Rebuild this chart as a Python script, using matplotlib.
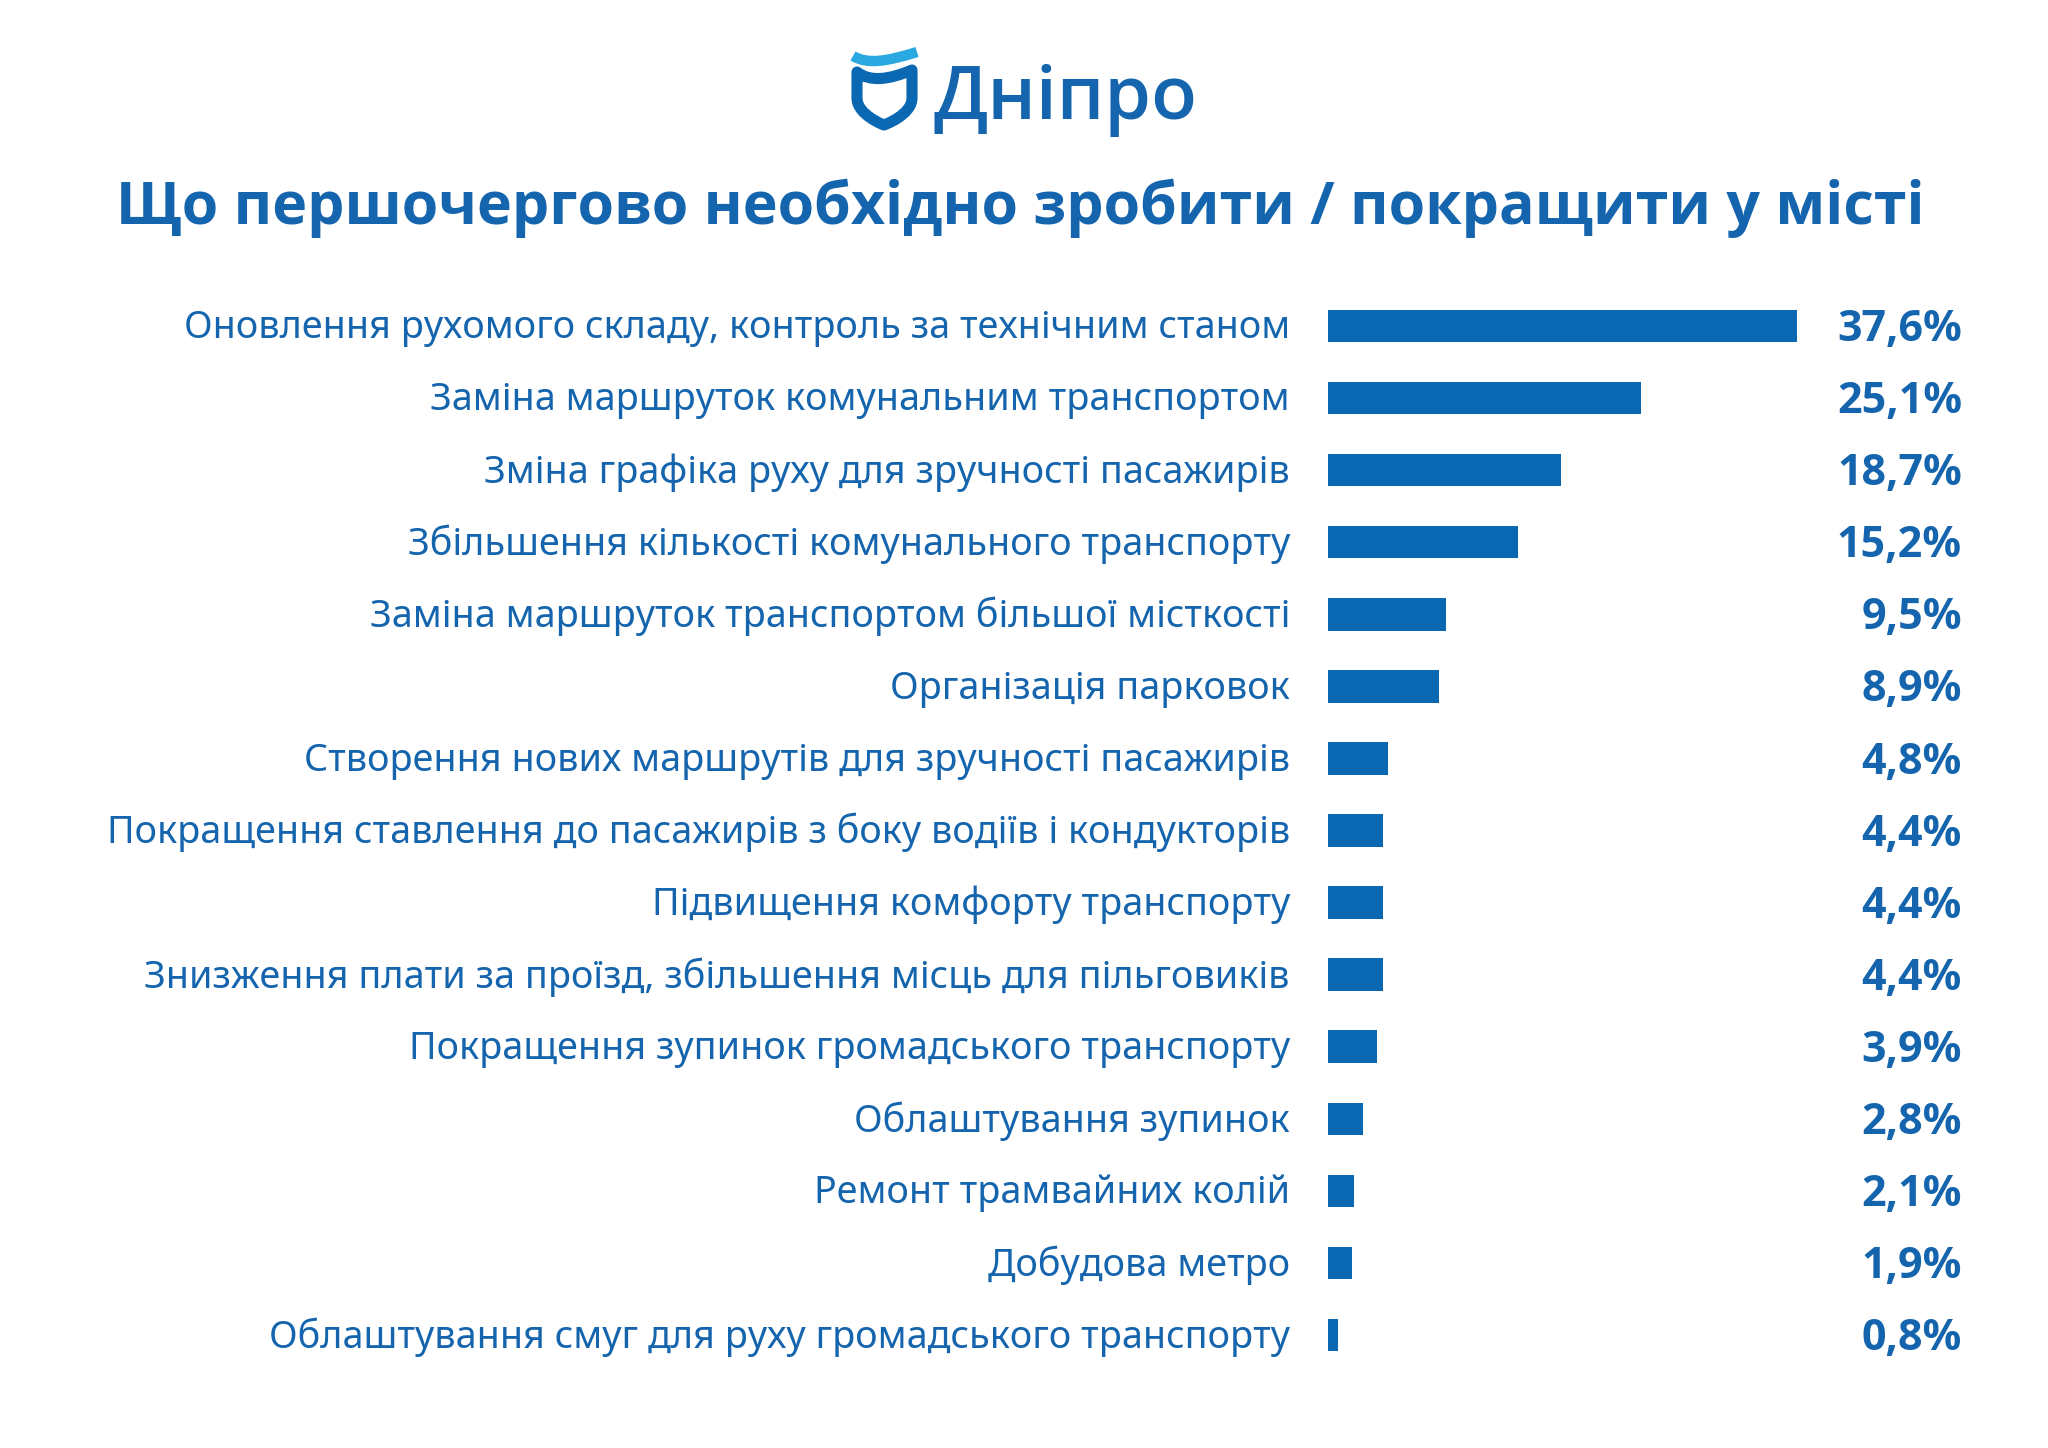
import numpy as np
import matplotlib.pyplot as plt
from matplotlib.path import Path
from matplotlib.patches import PathPatch
from matplotlib.transforms import blended_transform_factory

# data
categories = [
    "Оновлення рухомого складу, контроль за технічним станом",
    "Заміна маршруток комунальним транспортом",
    "Зміна графіка руху для зручності пасажирів",
    "Збільшення кількості комунального транспорту",
    "Заміна маршруток транспортом більшої місткості",
    "Організація парковок",
    "Створення нових маршрутів для зручності пасажирів",
    "Покращення ставлення до пасажирів з боку водіїв і кондукторів",
    "Підвищення комфорту транспорту",
    "Знизження плати за проїзд, збільшення місць для пільговиків",
    "Покращення зупинок громадського транспорту",
    "Облаштування зупинок",
    "Ремонт трамвайних колій",
    "Добудова метро",
    "Облаштування смуг для руху громадського транспорту",
]
values = [37.6, 25.1, 18.7, 15.2, 9.5, 8.9, 4.8, 4.4, 4.4, 4.4, 3.9, 2.8, 2.1, 1.9, 0.8]
value_labels = [f"{v:.1f}%".replace(".", ",") for v in values]

title = "Що першочергово необхідно зробити / покращити у місті"
brand = "Дніпро"

BLUE = "#0a67b2"
TEXT = "#1565ae"
LIGHT = "#2aa8e0"
BOLD_FONT = ["Open Sans", "DejaVu Sans"]

W, H = 2048, 1448
fig = plt.figure(figsize=(W / 100, H / 100), dpi=100)
fig.patch.set_facecolor("white")

# bars axis: 0..37.6% spans x 1328..1797 px, rows from y 290 to 1371 px
ax = fig.add_axes([1328 / W, 1 - 1371 / H, 469 / W, 1081 / H])
y = np.arange(len(values))
ax.barh(y, values, height=0.45, color=BLUE)
ax.set_xlim(0, 37.6)
ax.set_ylim(len(values) - 0.5, -0.5)
ax.axis("off")

tr = blended_transform_factory(fig.transFigure, ax.transData)
for i in range(len(values)):
    ax.text(1290 / W, y[i] + 0.03, categories[i], transform=tr, ha="right", va="center",
            fontsize=27.2, color=TEXT, family="Noto Sans")
    ax.text(1962 / W, y[i] + 0.05, value_labels[i], transform=tr, ha="right", va="center",
            fontsize=31, color=TEXT, family=BOLD_FONT, fontweight="bold")

# overlay in pixel coords for title and logo
ov = fig.add_axes([0, 0, 1, 1])
ov.set_xlim(0, W)
ov.set_ylim(H, 0)
ov.axis("off")

ov.text(1020, 208, title, ha="center", va="center", fontsize=42.6, fontweight="bold",
        color=TEXT, family=BOLD_FONT)
ov.text(933, 100, brand, ha="left", va="center", fontsize=54, color=TEXT,
        family=BOLD_FONT, fontweight="semibold")

# shield logo
shield = Path(
    [(857, 72), (870, 82), (888, 80), (912, 70), (912, 98), (912, 115), (884, 125), (884, 125),
     (884, 125), (857, 115), (857, 98), (857, 72)],
    [Path.MOVETO, Path.CURVE4, Path.CURVE4, Path.CURVE4, Path.LINETO, Path.CURVE4, Path.CURVE4,
     Path.LINETO, Path.CURVE4, Path.CURVE4, Path.CURVE4, Path.CLOSEPOLY],
)
ov.add_patch(PathPatch(shield, facecolor="none", edgecolor=BLUE, lw=8, joinstyle="round"))
wave = Path([(853, 56), (868, 65), (888, 61), (917, 52)],
            [Path.MOVETO, Path.CURVE4, Path.CURVE4, Path.CURVE4])
ov.add_patch(PathPatch(wave, facecolor="none", edgecolor=LIGHT, lw=7.5, capstyle="butt"))

fig.savefig("out.png", dpi=100, facecolor="white")
